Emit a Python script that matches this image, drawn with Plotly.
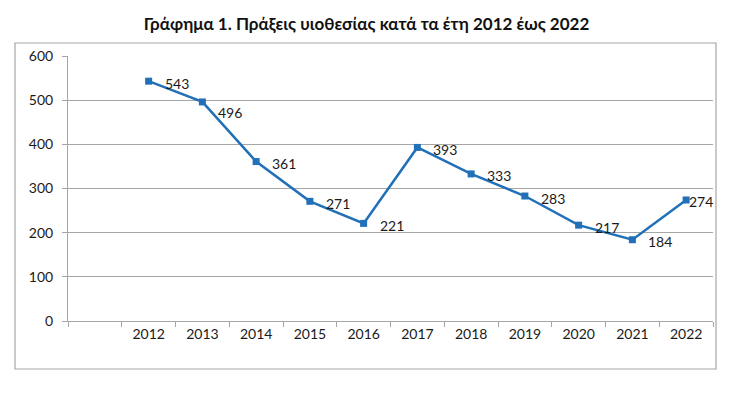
import plotly.graph_objects as go

years = ["2012", "2013", "2014", "2015", "2016", "2017", "2018", "2019", "2020", "2021", "2022"]
adoptions = [543, 496, 361, 271, 221, 393, 333, 283, 217, 184, 274]
y_ticks = [0, 100, 200, 300, 400, 500, 600]
title_text = "Γράφημα 1. Πράξεις υιοθεσίας κατά τα έτη 2012 έως 2022"

# one empty leading category slot, as in the original
xpos = [i + 1 for i in range(len(years))]

FONT = "Lato"
LINE = "#2170b8"
GRID = "#a6a6a6"
TXT = "#1a1a1a"

fig = go.Figure()
fig.add_trace(go.Scatter(
    x=xpos, y=adoptions,
    mode="lines+markers",
    line=dict(color=LINE, width=2.5),
    marker=dict(symbol="square", size=7, color=LINE),
    cliponaxis=False,
    hoverinfo="skip",
    showlegend=False,
))

# data labels (Excel-style, to the right of each point)
for i, (xv, yv) in enumerate(zip(xpos, adoptions)):
    dx = 14
    dy = -2
    if i == 1:
        dy = -11
    if i == len(xpos) - 1:
        dx = 1
    fig.add_annotation(x=xv, y=yv, text=str(yv), showarrow=False,
                       xanchor="left", yanchor="middle",
                       xshift=dx, yshift=dy,
                       font=dict(family=FONT, size=14, color=TXT))

fig.update_layout(
    width=733, height=393,
    margin=dict(l=68, r=20, t=56, b=72),
    paper_bgcolor="white", plot_bgcolor="white",
    font=dict(family=FONT, size=14, color=TXT),
    title=dict(text="<b>" + title_text + "</b>", x=0.5, xanchor="center",
               y=1 - 24 / 393, yanchor="middle",
               font=dict(family=FONT, size=17, color="#111111")),
    xaxis=dict(
        range=[-0.5, len(years) + 0.5],
        tickmode="array", tickvals=xpos, ticktext=years,
        ticks="", showgrid=False, zeroline=False,
        showline=True, linecolor=GRID, linewidth=1,
        tickfont=dict(family=FONT, size=14, color=TXT),
        minor=dict(tickmode="array",
                   tickvals=[i - 0.5 for i in range(len(years) + 2)],
                   ticks="outside", ticklen=5, tickcolor=GRID, showgrid=False),
        fixedrange=True,
    ),
    yaxis=dict(
        range=[0, 600], tickmode="array", tickvals=y_ticks,
        ticks="outside", ticklen=5, tickcolor=GRID,
        showgrid=True, gridcolor=GRID, gridwidth=1,
        zeroline=False, showline=True, linecolor=GRID, linewidth=1,
        tickfont=dict(family=FONT, size=14, color=TXT),
        ticklabelstandoff=6,
        fixedrange=True,
    ),
)

# outer chart border
fig.add_shape(type="rect", xref="paper", yref="paper",
              x0=(15 - 68) / 645, x1=(716 - 68) / 645,
              y0=(321 - 369) / 265, y1=(321 - 43) / 265,
              line=dict(color=GRID, width=1.2), fillcolor="rgba(0,0,0,0)",
              layer="below")

fig.write_html("out.html", config={"displayModeBar": False},
               post_script="document.body.style.margin='0';")
